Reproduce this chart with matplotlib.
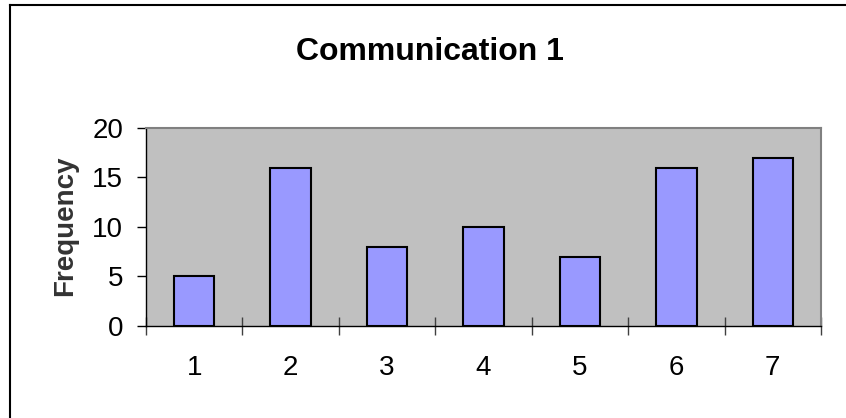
import numpy as np
import matplotlib.pyplot as plt
from matplotlib.lines import Line2D

plt.rcParams['font.family'] = ['Liberation Sans', 'DejaVu Sans']

categories = ['1', '2', '3', '4', '5', '6', '7']
frequency = [5, 16, 8, 10, 7, 16, 17]

fig = plt.figure(figsize=(8.46, 4.18), dpi=100)
ax = fig.add_axes([0.1726, 0.2208, 0.7978, 0.473])
ax.set_facecolor('#C0C0C0')

x = np.arange(len(categories))
ax.bar(x, frequency, width=0.42, color='#9999FF', edgecolor='black', linewidth=1.5, zorder=3)

ax.set_xlim(-0.5, len(categories) - 0.5)
ax.set_ylim(0, 20)
ax.set_yticks([0, 5, 10, 15, 20])
ax.tick_params(axis='y', direction='out', length=6.5, width=1, labelsize=20, pad=10)

# ticks between categories, labels centred under the bars
ax.set_xticks(np.arange(len(categories) + 1) - 0.5)
ax.set_xticklabels([])
ax.tick_params(axis='x', which='major', direction='inout', length=13, width=1, color='#404040')
ax.set_xticks(x, minor=True)
ax.set_xticklabels(categories, minor=True)
ax.tick_params(axis='x', which='minor', length=0, labelsize=20, pad=21)

for side in ['top', 'right']:
    ax.spines[side].set_color('#808080')
    ax.spines[side].set_linewidth(1.5)
for side in ['left', 'bottom']:
    ax.spines[side].set_color('black')
    ax.spines[side].set_linewidth(1)

fig.text(65 / 846, 1 - 226 / 418, 'Frequency', rotation=90, ha='center', va='center',
         fontsize=20, fontweight='bold', color='#333333')
fig.text(0.508, 0.875, 'Communication 1', ha='center', va='center',
         fontsize=23, fontweight='bold')

# chart frame
fig.add_artist(Line2D([10 / 846, 10 / 846], [0, 1 - 5 / 418], color='black', lw=1.5))
fig.add_artist(Line2D([10 / 846, 1], [1 - 5 / 418, 1 - 5 / 418], color='black', lw=1.5))

fig.savefig('out.png', dpi=100)
